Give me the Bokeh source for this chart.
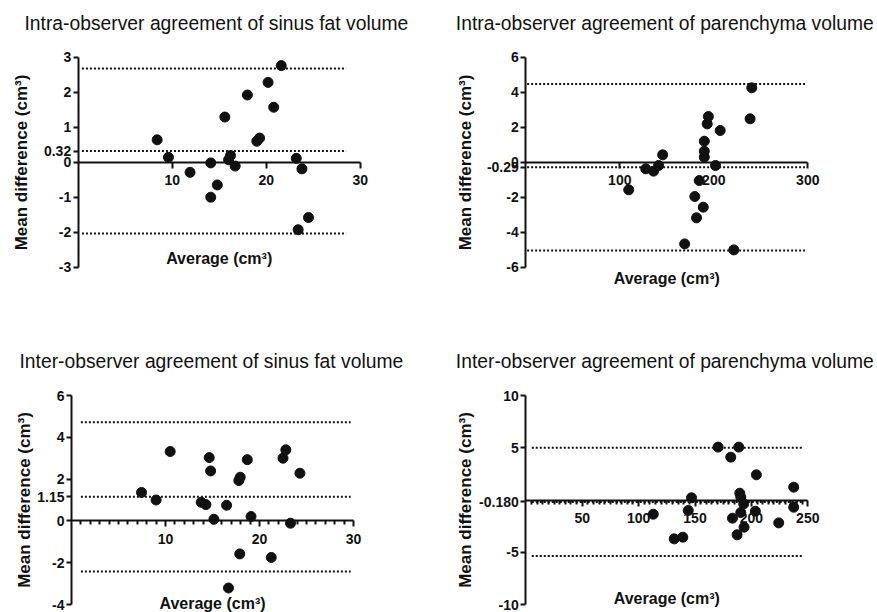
from bokeh.plotting import figure
from bokeh.models import FixedTicker, Label, Range1d
from bokeh.layouts import column, row
from bokeh.embed import file_html
from bokeh.resources import INLINE

# ---------------- data ----------------
titles = [
    "Intra-observer agreement of sinus fat volume",
    "Intra-observer agreement of parenchyma volume",
    "Inter-observer agreement of sinus fat volume",
    "Inter-observer agreement of parenchyma volume",
]
y_label = "Mean difference (cm³)"
x_label = "Average (cm³)"

# Panel 1: intra-observer, sinus fat
intra_fat_avg = [8.4, 9.6, 11.9, 14.1, 14.1, 14.8, 15.6, 16.0, 16.2, 16.7,
                 18.0, 19.0, 19.3, 20.2, 20.8, 21.6, 23.2, 23.8, 23.4, 24.5]
intra_fat_diff = [0.64, 0.14, -0.29, -0.02, -1.0, -0.65, 1.29, 0.07, 0.19, -0.11,
                  1.92, 0.60, 0.69, 2.28, 1.57, 2.76, 0.11, -0.19, -1.93, -1.58]
intra_fat_bias = 0.32
intra_fat_limits = [2.68, -2.04]
intra_fat_line_x = [0.4, 28.5]
intra_fat_xticks = [10, 20, 30]
intra_fat_xlabels = ["10", "20", "30"]
intra_fat_yticks = [-3, -2, -1, 0, 0.32, 1, 2, 3]
intra_fat_ylabels = ["-3", "-2", "-1", "0", "0.32", "1", "2", "3"]

# Panel 2: intra-observer, parenchyma
intra_par_avg = [109.5, 127.6, 135.9, 141.3, 145.6, 169.0, 179.8, 181.6, 184.5, 188.8,
                 189.9, 189.9, 189.9, 193.0, 194.2, 201.8, 206.8, 221.3, 238.6, 240.4]
intra_par_diff = [-1.58, -0.38, -0.51, -0.19, 0.42, -4.67, -1.96, -3.18, -1.05, -2.57,
                  1.20, 0.63, 0.29, 2.19, 2.61, -0.19, 1.81, -5.01, 2.48, 4.25]
intra_par_bias = -0.29
intra_par_limits = [4.47, -5.05]
intra_par_line_x = [1.4, 297]
intra_par_xticks = [100, 200, 300]
intra_par_xlabels = ["100", "200", "300"]
intra_par_yticks = [-6, -4, -2, -0.29, 0, 2, 4, 6]
intra_par_ylabels = ["-6", "-4", "-2", "-0.29", "0", "2", "4", "6"]

# Panel 3: inter-observer, sinus fat
inter_fat_avg = [7.45, 9.0, 10.5, 13.8, 14.3, 14.65, 14.8, 15.15, 16.5, 16.7,
                 17.8, 17.95, 17.9, 18.7, 19.1, 21.25, 22.5, 22.8, 23.3, 24.3]
inter_fat_diff = [1.36, 1.0, 3.32, 0.89, 0.78, 3.03, 2.39, 0.08, 0.75, -3.21,
                  1.93, 2.09, -1.58, 2.93, 0.21, -1.75, 3.0, 3.4, -0.11, 2.28]
inter_fat_bias = 1.15
inter_fat_limits = [4.72, -2.42]
inter_fat_line_x = [1.0, 29.7]
inter_fat_xticks = [10, 20, 30]
inter_fat_xlabels = ["10", "20", "30"]
inter_fat_xminor = [v for v in range(1, 30) if v % 10]
inter_fat_yticks = [-4, -2, 0, 1.15, 2, 4, 6]
inter_fat_ylabels = ["-4", "-2", "0", "1.15", "2", "4", "6"]

# Panel 4: inter-observer, parenchyma
inter_par_avg = [113.0, 131.6, 139.2, 144.0, 146.9, 170.5, 181.7, 183.2, 187.3, 188.8,
                 189.7, 190.6, 190.6, 193.2, 193.5, 203.5, 204.4, 224.2, 237.5, 237.5]
inter_par_diff = [-1.36, -3.72, -3.56, -1.0, 0.21, 5.06, 4.1, -1.74, -3.33, 5.06,
                  0.65, 0.27, -1.2, -0.37, -2.6, -1.07, 2.41, -2.19, 1.23, -0.69]
inter_par_bias = -0.18
inter_par_limits = [5.0, -5.36]
inter_par_line_x = [5.3, 245.7]
inter_par_xticks = [50, 100, 150, 200, 250]
inter_par_xlabels = ["50", "100", "150", "200", "250"]
inter_par_xminor = [v for v in range(5, 250, 5) if v % 50]
inter_par_yticks = [-10, -5, -0.18, 5, 10]
inter_par_ylabels = ["-10", "-5", "-0.180", "5", "10"]

# ---------------- style ----------------
FONT = "'Liberation Sans', Arial, sans-serif"
INK = "#111111"


def make_panel(title, avg, diff, bias, limits, line_x,
               x_axis, y_axis, canvas_wh, origin_px, axis_px,
               xticks, xlabels, xminor, yticks, ylabels,
               title_xy, ylabel_standoff, xlabel_y):
    """The frame fills the whole canvas; both axes are fixed inside it."""
    x_end = x_axis[1]
    y_min, y_max = y_axis
    W, H = canvas_wh
    ax_left, ax_top = origin_px          # y-axis x position, y_max tick position
    ax_w, ax_h = axis_px                 # axis lengths in px
    sx = ax_w / x_end
    sy = ax_h / (y_max - y_min)
    x_lo = -ax_left / sx
    x_hi = (W - ax_left) / sx
    y_hi = y_max + ax_top / sy
    y_lo = y_max - (H - ax_top) / sy

    p = figure(frame_width=W, frame_height=H,
               x_range=Range1d(x_lo, x_hi), y_range=Range1d(y_lo, y_hi),
               output_backend="svg", toolbar_location=None,
               min_border=0, min_border_left=0, min_border_right=0,
               min_border_top=0, min_border_bottom=0,
               outline_line_color=None)
    p.grid.visible = False

    # x axis crossing at y = 0
    xa = p.xaxis[0]
    xa.fixed_location = 0
    xa.bounds = (0, x_end)
    xa.ticker = FixedTicker(ticks=xticks, minor_ticks=xminor)
    xa.major_label_overrides = dict(zip(xticks, xlabels))
    xa.axis_line_width = 2
    xa.axis_line_color = INK
    xa.major_tick_line_width = 2
    xa.major_tick_line_color = INK
    xa.major_tick_in = 0
    xa.major_tick_out = 6
    xa.minor_tick_line_width = 2
    xa.minor_tick_line_color = INK
    xa.minor_tick_in = 0
    xa.minor_tick_out = 4
    xa.major_label_standoff = 7
    xa.major_label_text_font = FONT
    xa.major_label_text_font_style = "bold"
    xa.major_label_text_font_size = "14px"
    xa.major_label_text_color = INK

    # y axis at x = 0
    ya = p.yaxis[0]
    ya.fixed_location = 0
    ya.bounds = (y_min, y_max)
    ya.ticker = FixedTicker(ticks=yticks)
    ya.major_label_overrides = dict(zip(yticks, ylabels))
    ya.axis_line_width = 2
    ya.axis_line_color = INK
    ya.major_tick_line_width = 2
    ya.major_tick_line_color = INK
    ya.major_tick_in = 0
    ya.major_tick_out = 5
    ya.minor_tick_line_color = None
    ya.major_label_standoff = 2
    ya.major_label_text_font = FONT
    ya.major_label_text_font_style = "bold"
    ya.major_label_text_font_size = "14px"
    ya.major_label_text_color = INK
    ya.axis_label = y_label
    ya.axis_label_text_font = FONT
    ya.axis_label_text_font_style = "bold"
    ya.axis_label_text_font_size = "17px"
    ya.axis_label_text_color = INK
    ya.axis_label_standoff = ylabel_standoff

    # bias and limits of agreement (dotted)
    for level in [bias] + list(limits):
        p.line(x=line_x, y=[level, level], line_color=INK, line_width=2,
               line_dash="2 2")

    p.scatter(x=avg, y=diff, size=10, fill_color=INK, line_color=INK,
              marker="circle")

    p.add_layout(Label(x=x_end / 2, y=xlabel_y, text=x_label,
                       text_align="center", text_baseline="middle",
                       text_font=FONT, text_font_style="bold",
                       text_font_size="16px", text_color=INK))
    # panel title (screen units measured from the canvas' left / bottom)
    p.add_layout(Label(x=title_xy[0], y=H - title_xy[1], x_units="screen",
                       y_units="screen", text=title, text_align="left",
                       text_baseline="middle", text_font=FONT,
                       text_font_size="19.3px", text_color=INK))
    return p


p1 = make_panel(titles[0], intra_fat_avg, intra_fat_diff, intra_fat_bias,
                intra_fat_limits, intra_fat_line_x,
                (0, 30), (-3, 3), (437, 300), (77.7, 56.7), (282, 210),
                intra_fat_xticks, intra_fat_xlabels, [],
                intra_fat_yticks, intra_fat_ylabels,
                (24, 22.7), 10, -2.75)
p2 = make_panel(titles[1], intra_par_avg, intra_par_diff, intra_par_bias,
                intra_par_limits, intra_par_line_x,
                (0, 300), (-6, 6), (440, 300), (88.3, 56.7), (282, 210),
                intra_par_xticks, intra_par_xlabels, [],
                intra_par_yticks, intra_par_ylabels,
                (18.3, 22.7), 9, -6.65)
p3 = make_panel(titles[2], inter_fat_avg, inter_fat_diff, inter_fat_bias,
                inter_fat_limits, inter_fat_line_x,
                (0, 30), (-4, 6), (437, 312), (71, 95), (282, 209),
                inter_fat_xticks, inter_fat_xlabels, inter_fat_xminor,
                inter_fat_yticks, inter_fat_ylabels,
                (19, 61), 0, -3.95)
p4 = make_panel(titles[3], inter_par_avg, inter_par_diff, inter_par_bias,
                inter_par_limits, inter_par_line_x,
                (0, 250), (-10, 10), (440, 312), (88.3, 95), (282, 209),
                inter_par_xticks, inter_par_xlabels, inter_par_xminor,
                inter_par_yticks, inter_par_ylabels,
                (18.3, 61), 1, -9.45)

layout = column(row(p1, p2, spacing=0), row(p3, p4, spacing=0), spacing=0)
open("out.html", "w").write(file_html(layout, INLINE))
